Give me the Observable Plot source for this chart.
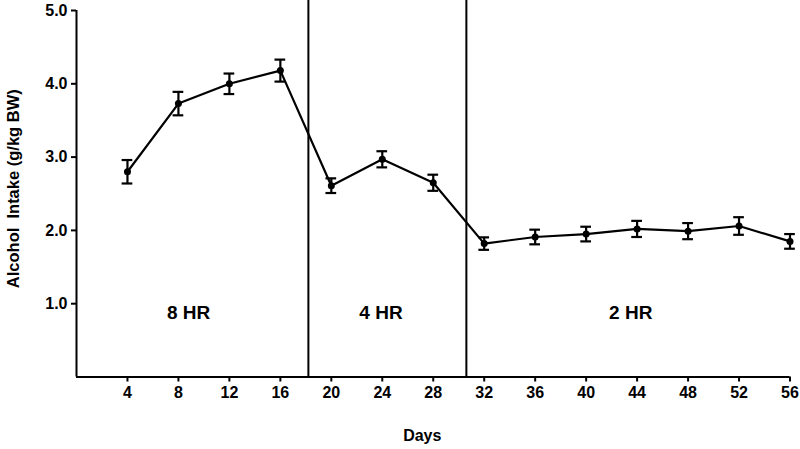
<!DOCTYPE html>
<html>
<head>
<meta charset="utf-8">
<script src="https://cdn.jsdelivr.net/npm/d3@7"></script>
<script src="https://cdn.jsdelivr.net/npm/@observablehq/plot@0.6"></script>
<style>
  html, body { margin: 0; padding: 0; background: #fff; }
  svg { display: block; }
</style>
</head>
<body>
<div id="chart"></div>
<script>
const days = [4, 8, 12, 16, 20, 24, 28, 32, 36, 40, 44, 48, 52, 56];
const intake = [2.80, 3.73, 4.00, 4.18, 2.61, 2.97, 2.65, 1.82, 1.91, 1.95, 2.02, 1.99, 2.06, 1.85];
const sem = [0.16, 0.16, 0.14, 0.15, 0.10, 0.11, 0.11, 0.085, 0.10, 0.10, 0.11, 0.11, 0.12, 0.10];
const xTicks = [4, 8, 12, 16, 20, 24, 28, 32, 36, 40, 44, 48, 52, 56];
const yTicks = [1, 2, 3, 4, 5];
const phaseBounds = [18.2, 30.6];
const phaseLabels = ["8 HR", "4 HR", "2 HR"];
const phaseLabelX = [8.8, 23.9, 43.5];
const phaseLabelY = 0.87;
const xTitle = "Days";
const yTitle = "Alcohol  Intake (g/kg BW)";

const data = days.map((d, i) => ({day: d, mean: intake[i], sem: sem[i]}));
const phases = phaseLabels.map((t, i) => ({label: t, x: phaseLabelX[i], y: phaseLabelY}));

const font = "'Liberation Sans', Arial, sans-serif";

const chart = Plot.plot({
  width: 800,
  height: 449,
  marginTop: 10,
  marginBottom: 72.5,
  marginLeft: 76,
  marginRight: 10.5,
  style: {fontFamily: font, fontWeight: "bold", fontSize: "16px", color: "#000", background: "#fff"},
  x: {domain: [0, 56]},
  y: {domain: [0, 5]},
  marks: [
    Plot.axisX(xTicks, {tickSize: 5, tickPadding: 5, strokeWidth: 2, fontSize: 16, fontWeight: "bold", label: null, tickFormat: d => String(d)}),
    Plot.axisY(yTicks, {tickSize: 5, tickPadding: 4, strokeWidth: 2, fontSize: 16, fontWeight: "bold", label: null, tickFormat: d3.format(".1f")}),
    Plot.ruleX([0], {y1: 0, y2: 5, stroke: "#000", strokeWidth: 2}),
    Plot.ruleY([0], {x1: 0, x2: 56, stroke: "#000", strokeWidth: 2}),
    Plot.ruleX(phaseBounds, {y1: 0, y2: 5.14, stroke: "#000", strokeWidth: 2}),
    Plot.line(data, {x: "day", y: "mean", stroke: "#000", strokeWidth: 2.2}),
    Plot.ruleX(data, {x: "day", y1: d => d.mean - d.sem, y2: d => d.mean + d.sem, stroke: "#000", strokeWidth: 2.2}),
    Plot.ruleY(data, {y: d => d.mean + d.sem, x1: d => d.day - 0.42, x2: d => d.day + 0.42, stroke: "#000", strokeWidth: 2.2}),
    Plot.ruleY(data, {y: d => d.mean - d.sem, x1: d => d.day - 0.42, x2: d => d.day + 0.42, stroke: "#000", strokeWidth: 2.2}),
    Plot.dot(data, {x: "day", y: "mean", r: 3.5, fill: "#000", stroke: "none"}),
    Plot.text(phases, {x: "x", y: "y", text: "label", fontSize: 19, fontWeight: "bold", fill: "#000"}),
    Plot.text([xTitle], {frameAnchor: "bottom", dx: -11, dy: 63.5, fontSize: 16, fontWeight: "bold", fill: "#000"}),
    Plot.text([yTitle], {frameAnchor: "left", textAnchor: "middle", dx: -63, dy: -5, rotate: -90, fontSize: 16.5, fontWeight: "bold", fill: "#000"})
  ]
});
document.getElementById("chart").appendChild(chart);
</script>
</body>
</html>
